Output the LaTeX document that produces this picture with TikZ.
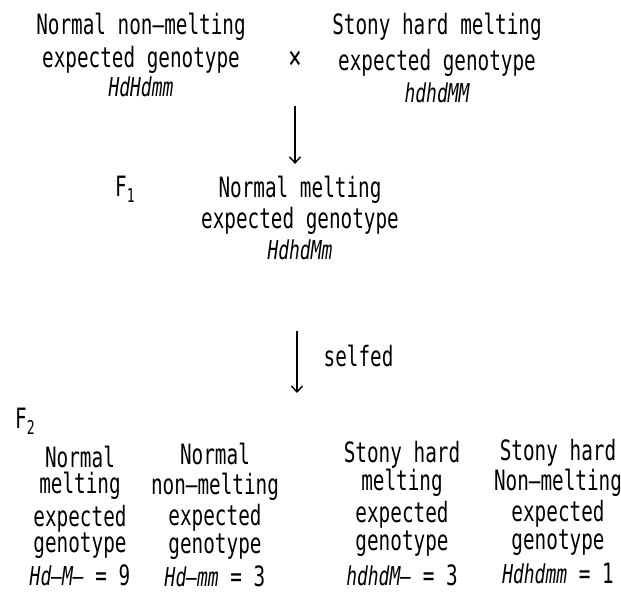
\documentclass[tikz,border=0pt]{standalone}
\usepackage{fontspec}
\setmainfont[FakeStretch=0.69]{DejaVu Sans Mono}
\usetikzlibrary{arrows.meta,positioning}
\newcommand{\sub}[1]{\raisebox{-6pt}{\fontsize{19}{19}\selectfont #1}}
\newcommand{\gothicsize}{\fontsize{28}{26}\selectfont\lineskiplimit=-40pt\relax}
\newcommand{\gen}[1]{{\fontsize{26}{26}\selectfont\itshape #1}}

\begin{document}
\begin{tikzpicture}[x=1pt,y=-1pt,
	every node/.style={font=\gothicsize, inner sep=0pt},
	geno/.style={align=center},
	stick/.style={-{Straight Barb[length=6pt,width=11pt]}, line width=1.4pt}]
	\useasboundingbox (0,0) rectangle (621,592);
	% parents
	\node[geno] (parent1) at (141,55) {
	Normal non–melting\\[7pt]
	expected genotype\\[3pt]
	\gen{HdHdmm}
	};
	\node[geno] (parent2) at (437,58) {
	Stony hard melting\\[10pt]
	expected genotype\\[6pt]
	\gen{hdhdMM}
	};
	\node (cross) at (295,60) {\fontsize{32}{32}\selectfont ×};
	% F1
	\node[geno] (fone) at (300,218) {
	Normal melting\\[5pt]
	expected genotype\\[5pt]
	\gen{HdhdMm}
	};
	\node[left=66pt of fone.north west, anchor=north east] (flabel1) {F\sub{1}};
	% F2
	\node[geno] (child1) at (80,516) {
	Normal\\
	melting\\[7pt]
	expected\\
	genotype\\[7pt]
	\gen{Hd–M–} = 9
	};
	\node[geno] (child2) at (215,515) {
	Normal\\[4pt]
	non–melting\\[5pt]
	expected\\[2pt]
	genotype\\[7pt]
	\gen{Hd–mm} = 3
	};
	\node[geno] (child3) at (402,514) {
	Stony hard\\[2pt]
	melting\\[6pt]
	expected\\[2pt]
	genotype\\[9pt]
	\gen{hdhdM–} = 3
	};
	\node[geno] (child4) at (558,512) {
	Stony hard\\[4pt]
	Non–melting\\[5pt]
	expected\\[2pt]
	genotype\\[8pt]
	\gen{Hdhdmm} = 1
	};
	\node (flabel2) at (25,421) {F\sub{2}};
	% arrows
	\coordinate (top1) at (295,106);
	\coordinate (top2) at (297,331);
	\coordinate (end2) at (297,393);
	\draw[stick] (top1) -- (fone.north -| top1) [shorten >=12pt];
	\draw[stick] (top2) -- (end2) node[midway, right=26pt, yshift=6pt] (selfed) {selfed};
\end{tikzpicture}
\end{document}
